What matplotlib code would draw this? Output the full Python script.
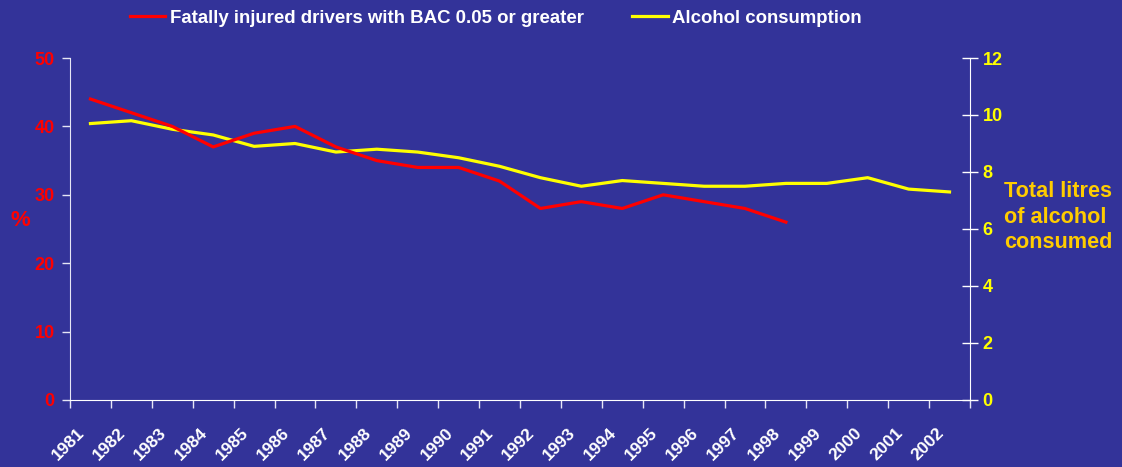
import numpy as np
import matplotlib.pyplot as plt
import matplotlib.transforms as mtransforms
from matplotlib.lines import Line2D

years = [str(y) for y in range(1981, 2003)]
# % of fatally injured drivers with BAC 0.05 or greater (1981-1998)
bac_pct = [44, 42, 40, 37, 39, 40, 37, 35, 34, 34, 32, 28, 29, 28, 30, 29, 28, 26]
# total litres of alcohol consumed (1981-2002)
alcohol = [9.7, 9.8, 9.5, 9.3, 8.9, 9.0, 8.7, 8.8, 8.7, 8.5, 8.2, 7.8, 7.5, 7.7,
           7.6, 7.5, 7.5, 7.6, 7.6, 7.8, 7.4, 7.3]

BG = "#333399"
RED = "#ff0000"
YEL = "#ffff00"
GOLD = "#ffcc00"
AXC = "#e6e6f5"

plt.rcParams['font.family'] = ['Liberation Sans', 'DejaVu Sans']
plt.rcParams['font.weight'] = 'bold'

fig = plt.figure(figsize=(11.22, 4.67), dpi=100, facecolor=BG)
ax = fig.add_axes([0.0624, 0.1435, 0.8021, 0.7323], facecolor=BG)
ax2 = ax.twinx()

x = np.arange(len(years))
ax.plot(x[:len(bac_pct)], bac_pct, color=RED, lw=2.3, zorder=3)
ax2.plot(x, alcohol, color=YEL, lw=2.3)
ax.set_zorder(ax2.get_zorder() + 1)
ax.patch.set_visible(False)

ax.set_xlim(-0.5, len(years) - 0.5)
ax.set_ylim(0, 50)
ax2.set_ylim(0, 12)
ax.set_yticks(range(0, 51, 10))
ax2.set_yticks(range(0, 13, 2))

# category boundaries as tick marks, labels at centres
ax.set_xticks(np.arange(-0.5, len(years)), labels=[''] * (len(years) + 1))
ax.set_xticks(x, labels=years, minor=True)
ax.tick_params(axis='x', which='major', direction='out', length=6, width=1, colors=AXC)
ax.tick_params(axis='x', which='minor', length=0, pad=22, labelsize=12.5, labelcolor='white')
off = mtransforms.ScaledTranslation(-8 / 100, 0, fig.dpi_scale_trans)
for lab in ax.get_xticklabels(minor=True):
    lab.set_rotation(45)
    lab.set_ha('right')
    lab.set_va('center')
    lab.set_rotation_mode('anchor')
    lab.set_transform(lab.get_transform() + off)

ax.tick_params(axis='y', direction='out', length=6, width=1, colors=AXC,
               labelcolor=RED, labelsize=13, pad=5)
ax2.tick_params(axis='y', direction='inout', length=12, width=1, colors='white',
                labelcolor=YEL, labelsize=13, pad=3)

ax.spines['top'].set_visible(False)
ax2.spines['top'].set_visible(False)
ax.spines['right'].set_visible(False)
ax2.spines['left'].set_visible(False)
ax2.spines['bottom'].set_visible(False)
ax.spines['left'].set_color(AXC)
ax.spines['bottom'].set_color('white')
ax2.spines['right'].set_color('white')

fig.text(0.018, 0.528, '%', color=RED, fontsize=16, fontweight='bold', ha='center', va='center')
fig.text(0.895, 0.535, 'Total litres\nof alcohol\nconsumed', color=GOLD, fontsize=15.6,
         fontweight='bold', ha='left', va='center', linespacing=1.3)

handles = [Line2D([], [], color=RED, lw=2.3), Line2D([], [], color=YEL, lw=2.3)]
leg = fig.legend(handles, ['Fatally injured drivers with BAC 0.05 or greater', 'Alcohol consumption'],
                 ncol=2, loc='upper center', bbox_to_anchor=(0.442, 1.015), frameon=False,
                 fontsize=13.4, handlelength=1.9, handletextpad=0.25, columnspacing=2.6)
for t in leg.get_texts():
    t.set_color('white')

fig.savefig('out.png', dpi=100, facecolor=BG)
